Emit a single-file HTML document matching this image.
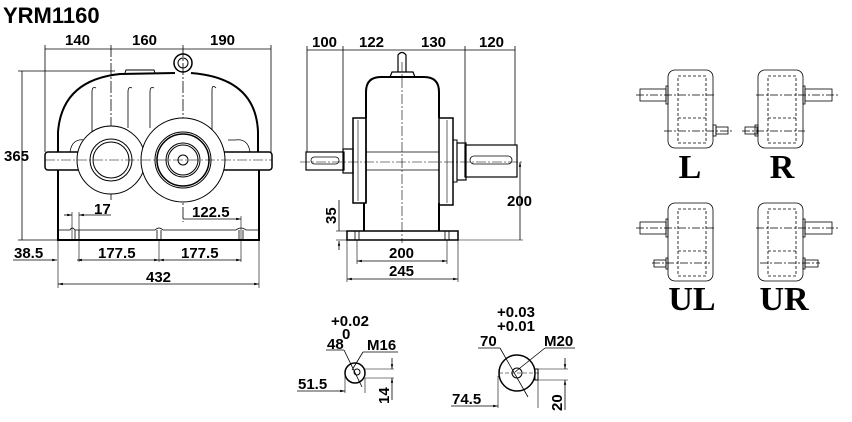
<!DOCTYPE html>
<html><head><meta charset="utf-8"><style>
html,body{margin:0;padding:0;background:#fff;}
svg{display:block;}
text{font-family:"Liberation Sans",sans-serif;font-weight:bold;fill:#000;}
.t{font-size:15px;}
.s{font-family:"Liberation Serif",serif;font-size:34px;font-weight:bold;}
</style></head><body>
<svg width="852" height="422" viewBox="0 0 852 422" xmlns="http://www.w3.org/2000/svg">
<defs>
<marker id="a" viewBox="0 0 6 6" refX="6" refY="3" markerWidth="6" markerHeight="6" orient="auto-start-reverse"><path d="M0,1.5 L6,3 L0,4.5z" fill="#000"/></marker>
</defs>
<text x="3" y="23" style="font-size:22px">YRM1160</text>

<g fill="none" stroke="#000" stroke-width="1">
<line x1="45" y1="49" x2="271" y2="49" stroke-width="0.8"/>
<line x1="45" y1="45" x2="45" y2="152" stroke-width="0.8"/>
<line x1="271" y1="45" x2="271" y2="152" stroke-width="0.8"/>
<line x1="111" y1="45" x2="111" y2="200" stroke-width="0.8" stroke-dasharray="12,2,2,2"/>
<line x1="183" y1="45" x2="183" y2="222" stroke-width="0.8" stroke-dasharray="12,2,2,2"/>
<line x1="22" y1="71" x2="22" y2="240" stroke-width="0.8"/>
<line x1="18" y1="71" x2="115" y2="71" stroke-width="0.8"/>
<line x1="18" y1="240" x2="58" y2="240" stroke-width="0.8"/>
<path d="M58,152 L58,132 Q62,80 120,74 L175,73 M191,73 Q256,78 258,132 L258,152" stroke-width="2"/>
<path d="M58,170 L58,240 L259,240 L259,170" stroke-width="2"/>
<rect x="45" y="152" width="227" height="18" rx="3" stroke-width="1.5"/>
<path d="M125,73 L126,70 L154,70 L155,73" />
<circle cx="183" cy="63" r="9" stroke-width="1.5"/>
<circle cx="183" cy="63" r="5"/>
<path d="M92,148 L92,92 Q92,86 96,88 M128,128 L128,92 Q128,86 132,88 M150,128 L150,92 Q150,86 154,88 M212,148 L212,90 Q212,84 216,88" stroke-width="0.8"/>
<path d="M70,152 Q72,138 85,140 M250,152 Q248,138 235,140 L228,140" stroke-width="0.8"/>
<circle cx="111" cy="160" r="34" fill="#fff"/>
<circle cx="111" cy="160" r="21"/>
<circle cx="111" cy="160" r="18"/>
<circle cx="183" cy="160" r="42" fill="#fff"/>
<circle cx="183" cy="160" r="28"/>
<circle cx="183" cy="160" r="26" stroke-width="1.5"/>
<circle cx="183" cy="160" r="17"/>
<circle cx="183" cy="160" r="15"/>
<circle cx="183" cy="160" r="5"/>
<line x1="45" y1="160" x2="272" y2="160" stroke-width="0.6" stroke-dasharray="10,2,2,2"/>
<path d="M58,230 L70,230 Q72,226 75,230 L155,230 Q159,226 163,230 L236,230 Q241,226 246,230 L259,230" stroke-width="0.8"/>
<path d="M75,230 L75,240 M79,230 L79,240 M157,230 L157,240 M161,230 L161,240 M239,230 L239,240 M243,230 L243,240" stroke-width="0.8"/>
<line x1="64" y1="215" x2="72" y2="215" marker-end="url(#a)" stroke-width="0.8"/>
<line x1="111" y1="215" x2="79" y2="215" marker-end="url(#a)" stroke-width="0.8"/>
<line x1="72" y1="212" x2="72" y2="240" stroke-width="0.6"/>
<line x1="79" y1="212" x2="79" y2="262" stroke-width="0.6"/>
<line x1="183" y1="219" x2="241" y2="219" marker-end="url(#a)" stroke-width="0.8"/>
<line x1="241" y1="216" x2="241" y2="262" stroke-width="0.6"/>
<line x1="159" y1="240" x2="159" y2="262" stroke-width="0.6"/>
<line x1="77" y1="260" x2="159" y2="260" marker-start="url(#a)" marker-end="url(#a)" stroke-width="0.8"/>
<line x1="159" y1="260" x2="241" y2="260" marker-start="url(#a)" marker-end="url(#a)" stroke-width="0.8"/>
<line x1="13" y1="260" x2="57" y2="260" marker-end="url(#a)" stroke-width="0.8"/>
<line x1="58" y1="240" x2="58" y2="288" stroke-width="0.6"/>
<line x1="259" y1="240" x2="259" y2="288" stroke-width="0.6"/>
<line x1="58" y1="284" x2="259" y2="284" marker-start="url(#a)" marker-end="url(#a)" stroke-width="0.8"/>
</g>
<text class="t" x="65" y="45">140</text>
<text class="t" x="132" y="45">160</text>
<text class="t" x="210" y="45">190</text>
<text class="t" x="4" y="161">365</text>
<text class="t" x="94" y="214">17</text>
<text class="t" x="192" y="217">122.5</text>
<text class="t" x="14" y="258">38.5</text>
<text class="t" x="98" y="258">177.5</text>
<text class="t" x="181" y="258">177.5</text>
<text class="t" x="146" y="282">432</text>

<g fill="none" stroke="#000" stroke-width="1">
<line x1="307" y1="50" x2="515" y2="50" stroke-width="0.8"/>
<line x1="307" y1="46" x2="307" y2="152" stroke-width="0.8"/>
<line x1="343" y1="46" x2="343" y2="150" stroke-width="0.8"/>
<line x1="465" y1="46" x2="465" y2="145" stroke-width="0.8"/>
<line x1="515" y1="46" x2="515" y2="145" stroke-width="0.8"/>
<path d="M398,72 L398,55 Q402,50 406,55 L406,72" stroke-width="1.2"/>
<path d="M390,77 L392,72 L413,72 L415,77" stroke-width="1.2"/>
<path d="M366,118 L366,92 Q366,77 381,77 L424,77 Q439,77 439,92 L439,118" stroke-width="2"/>
<path d="M364,203 L364,231 M439,203 L439,231" stroke-width="2"/>
<rect x="353" y="118" width="13" height="85" stroke-width="1.5"/>
<line x1="358" y1="120" x2="358" y2="201" stroke-width="0.6"/>
<rect x="439" y="118" width="14" height="87" stroke-width="1.5"/>
<line x1="447" y1="120" x2="447" y2="203" stroke-width="0.6"/>
<rect x="453" y="140" width="4" height="42"/>
<line x1="366" y1="118" x2="366" y2="203" stroke-width="1.5"/>
<rect x="347" y="231" width="111" height="9" stroke-width="1.5"/>
<path d="M355,231 L355,240 M359,231 L359,240 M445,231 L445,240 M449,231 L449,240" stroke-width="0.8"/>
<line x1="366" y1="152" x2="439" y2="152" stroke-width="0.8"/>
<line x1="366" y1="170" x2="439" y2="170" stroke-width="0.8"/>
<rect x="306" y="152" width="38" height="18" stroke-width="1.2"/>
<rect x="343" y="149" width="10" height="24" stroke-width="1.2"/>
<rect x="311" y="157" width="28" height="7" rx="3.5" stroke-width="0.8"/>
<rect x="457" y="143" width="9" height="37" stroke-width="1.2"/>
<rect x="465" y="145" width="52" height="32" stroke-width="1.2"/>
<rect x="470" y="156" width="42" height="8" rx="4" stroke-width="0.8"/>
<line x1="300" y1="162" x2="524" y2="162" stroke-width="0.6" stroke-dasharray="10,2,2,2"/>
<line x1="402" y1="62" x2="402" y2="243" stroke-width="0.6" stroke-dasharray="10,2,2,2"/>
<line x1="339" y1="200" x2="339" y2="231" stroke-width="0.8"/>
<line x1="336" y1="231" x2="347" y2="231" stroke-width="0.6"/>
<line x1="336" y1="240" x2="347" y2="240" stroke-width="0.6"/>
<line x1="339" y1="250" x2="339" y2="241" marker-end="url(#a)" stroke-width="0.8"/>
<line x1="458" y1="240" x2="523" y2="240" stroke-width="0.6"/>
<line x1="520" y1="162" x2="520" y2="240" marker-start="url(#a)" stroke-width="0.8"/>
<line x1="357" y1="240" x2="357" y2="264" stroke-width="0.6"/>
<line x1="447" y1="240" x2="447" y2="264" stroke-width="0.6"/>
<line x1="347" y1="240" x2="347" y2="282" stroke-width="0.6"/>
<line x1="458" y1="240" x2="458" y2="282" stroke-width="0.6"/>
<line x1="357" y1="261" x2="447" y2="261" marker-start="url(#a)" marker-end="url(#a)" stroke-width="0.8"/>
<line x1="347" y1="279" x2="458" y2="279" marker-start="url(#a)" marker-end="url(#a)" stroke-width="0.8"/>
</g>
<text class="t" x="312" y="47">100</text>
<text class="t" x="359" y="47">122</text>
<text class="t" x="421" y="47">130</text>
<text class="t" x="479" y="47">120</text>
<text class="t" x="507" y="206">200</text>
<text class="t" transform="translate(336,224) rotate(-90)">35</text>
<text class="t" x="389" y="258">200</text>
<text class="t" x="389" y="276">245</text>

<g fill="none" stroke="#000" stroke-width="1">
<circle cx="355" cy="373" r="10" stroke-width="1.5"/>
<circle cx="357" cy="372" r="3"/>
<line x1="326" y1="350" x2="344" y2="350" stroke-width="0.8"/>
<line x1="344" y1="350" x2="362" y2="387" stroke-width="0.8"/>
<line x1="363" y1="352" x2="398" y2="352" stroke-width="0.8"/>
<line x1="363" y1="352" x2="352" y2="370" stroke-width="0.8"/>
<line x1="297" y1="391" x2="345" y2="391" marker-end="url(#a)" stroke-width="0.8"/>
<line x1="345" y1="373" x2="345" y2="393" stroke-width="0.6"/>
<line x1="365" y1="369" x2="394" y2="369" stroke-width="0.6"/>
<line x1="365" y1="378" x2="394" y2="378" stroke-width="0.6"/>
<line x1="392" y1="358" x2="392" y2="369" marker-end="url(#a)" stroke-width="0.8"/>
<line x1="392" y1="400" x2="392" y2="378" marker-end="url(#a)" stroke-width="0.8"/>
<line x1="365" y1="378" x2="365" y2="393" stroke-width="0.6"/>
<circle cx="517" cy="373" r="18" stroke-width="1.5"/>
<circle cx="517" cy="373" r="5"/>
<line x1="499" y1="373" x2="540" y2="373" stroke-width="0.6" stroke-dasharray="4,2"/>
<line x1="478" y1="348" x2="500" y2="348" stroke-width="0.8"/>
<line x1="500" y1="348" x2="528" y2="397" stroke-width="0.8"/>
<line x1="545" y1="348" x2="575" y2="348" stroke-width="0.8"/>
<line x1="545" y1="348" x2="515" y2="372" stroke-width="0.8"/>
<rect x="535" y="369" width="3" height="11"/>
<line x1="451" y1="406" x2="498" y2="406" marker-end="url(#a)" stroke-width="0.8"/>
<line x1="498" y1="376" x2="498" y2="408" stroke-width="0.6"/>
<line x1="538" y1="369" x2="568" y2="369" stroke-width="0.6"/>
<line x1="538" y1="380" x2="568" y2="380" stroke-width="0.6"/>
<line x1="538" y1="380" x2="538" y2="408" stroke-width="0.6"/>
<line x1="565" y1="358" x2="565" y2="369" marker-end="url(#a)" stroke-width="0.8"/>
<line x1="565" y1="410" x2="565" y2="380" marker-end="url(#a)" stroke-width="0.8"/>
</g>
<text class="t" x="331" y="326">+0.02</text>
<text class="t" x="342" y="339">0</text>
<text class="t" x="327" y="349">48</text>
<text class="t" x="367" y="350">M16</text>
<text class="t" x="298" y="389">51.5</text>
<text class="t" transform="translate(389,404) rotate(-90)">14</text>
<text class="t" x="497" y="317">+0.03</text>
<text class="t" x="497" y="331">+0.01</text>
<text class="t" x="480" y="346">70</text>
<text class="t" x="544" y="346">M20</text>
<text class="t" x="452" y="404">74.5</text>
<text class="t" transform="translate(562,411) rotate(-90)">20</text>

<g fill="none" stroke="#000" stroke-width="0.8">
<g id="bx">
<rect x="668" y="70" width="45" height="78" rx="7"/>
<rect x="678" y="76" width="28" height="67" stroke-dasharray="3,2"/>
<line x1="678" y1="118" x2="706" y2="118" stroke-dasharray="3,2"/>
</g>
<line x1="636" y1="95" x2="715" y2="95" stroke-dasharray="8,2,2,2"/>
<line x1="664" y1="131" x2="732" y2="131" stroke-dasharray="8,2,2,2"/>
<rect x="640" y="89" width="26" height="12"/><rect x="666" y="86" width="2" height="18"/>
<rect x="716" y="127" width="12" height="7"/><rect x="713" y="125" width="3" height="11"/>
<use href="#bx" x="90"/>
<line x1="756" y1="95" x2="838" y2="95" stroke-dasharray="8,2,2,2"/>
<line x1="742" y1="131" x2="805" y2="131" stroke-dasharray="8,2,2,2"/>
<rect x="805" y="89" width="27" height="12"/><rect x="803" y="86" width="2" height="18"/>
<rect x="745" y="127" width="12" height="7"/><rect x="755" y="125" width="3" height="11"/>
<use href="#bx" y="133"/>
<line x1="636" y1="228" x2="715" y2="228" stroke-dasharray="8,2,2,2"/>
<line x1="652" y1="263" x2="710" y2="263" stroke-dasharray="8,2,2,2"/>
<rect x="640" y="222" width="26" height="12"/><rect x="666" y="219" width="2" height="18"/>
<rect x="654" y="260" width="12" height="7"/><rect x="666" y="258" width="2" height="11"/>
<use href="#bx" x="90" y="133"/>
<line x1="756" y1="228" x2="838" y2="228" stroke-dasharray="8,2,2,2"/>
<line x1="760" y1="263" x2="820" y2="263" stroke-dasharray="8,2,2,2"/>
<rect x="805" y="222" width="27" height="12"/><rect x="803" y="219" width="2" height="18"/>
<rect x="805" y="260" width="13" height="7"/><rect x="803" y="258" width="2" height="11"/>
</g>
<text class="s" x="690" y="178" text-anchor="middle">L</text>
<text class="s" x="782" y="178" text-anchor="middle">R</text>
<text class="s" x="692" y="310" text-anchor="middle">UL</text>
<text class="s" x="784" y="310" text-anchor="middle">UR</text>
</svg>
</body></html>
